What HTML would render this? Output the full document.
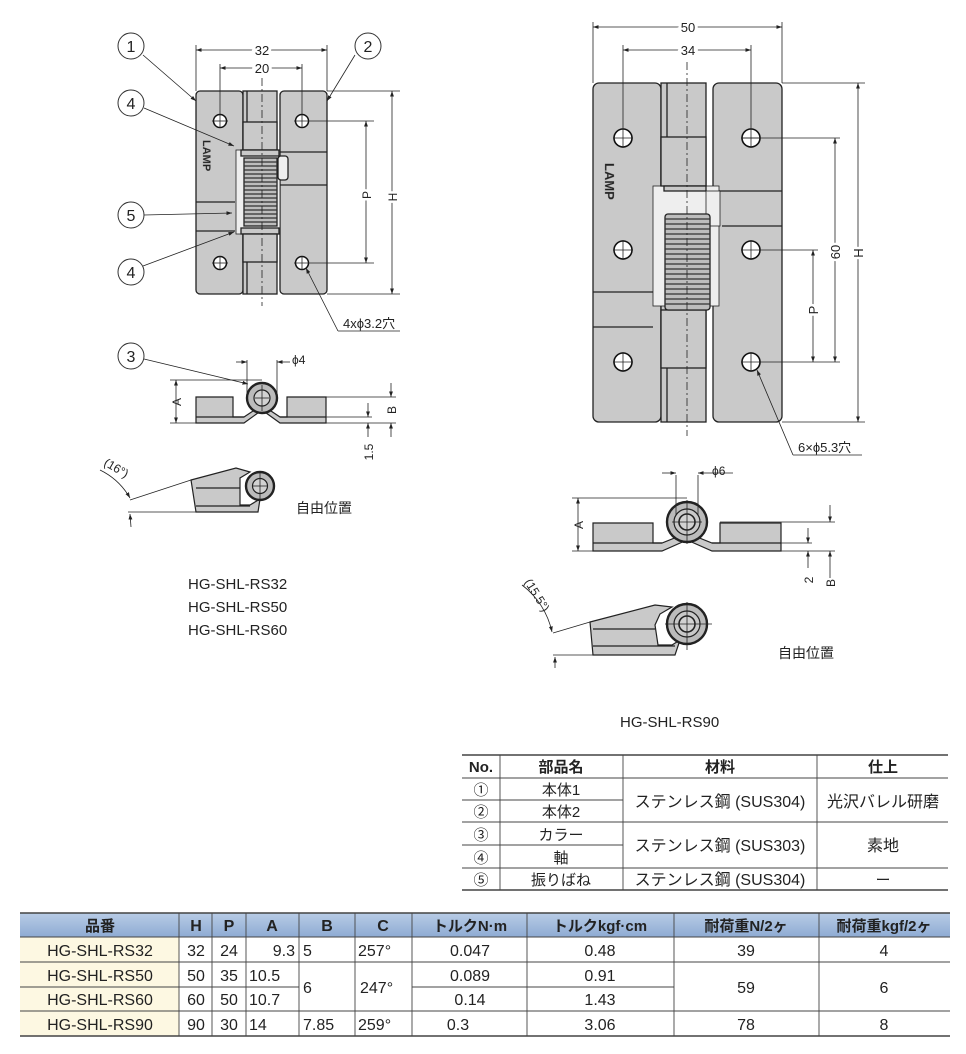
<!DOCTYPE html>
<html><head><meta charset="utf-8"><style>
html,body{margin:0;padding:0;background:#fff}
svg{display:block}
text{font-family:"Liberation Sans","Noto Sans CJK JP",sans-serif;fill:#222}
</style></head><body>
<svg width="966" height="1054" viewBox="0 0 966 1054" xmlns="http://www.w3.org/2000/svg">
<defs>
<marker id="ar" viewBox="0 0 10 10" refX="10" refY="5" markerWidth="7" markerHeight="7" orient="auto-start-reverse"><path d="M0,1.5 L10,5 L0,8.5 z" fill="#222"/></marker>
<linearGradient id="hd" x1="0" y1="0" x2="0" y2="1"><stop offset="0" stop-color="#b8cce6"/><stop offset="1" stop-color="#8eabd3"/></linearGradient>
</defs>
<g stroke="#222" stroke-width="1.3" fill="#c9c9c9">
<!-- LEFT HINGE FRONT -->
<rect x="196" y="91" width="47" height="203" rx="4"/>
<line x1="196" y1="202" x2="235" y2="202"/><line x1="196" y1="231" x2="235" y2="231"/>
<rect x="243" y="91" width="34" height="203"/>
<line x1="247" y1="91" x2="247" y2="294"/>
<rect x="280" y="91" width="47" height="203" rx="4"/>
<line x1="280" y1="152" x2="327" y2="152"/><line x1="280" y1="185" x2="327" y2="185"/>
<rect x="236" y="150" width="44" height="84" fill="#eee" stroke-width="0.8"/>
<rect x="243" y="122" width="34" height="28"/>
<rect x="241" y="150" width="38" height="6"/>
<rect x="241" y="228" width="38" height="6"/>
<rect x="243" y="234" width="34" height="28"/>
<rect x="278" y="156" width="10" height="24" rx="3" fill="#eee"/>
<rect x="244" y="158" width="33" height="68" fill="#bdbdbd"/>
</g>
<g stroke="#333" stroke-width="1.3">
<line x1="244" y1="162" x2="277" y2="162"/><line x1="244" y1="166" x2="277" y2="166"/><line x1="244" y1="170" x2="277" y2="170"/><line x1="244" y1="174" x2="277" y2="174"/><line x1="244" y1="178" x2="277" y2="178"/><line x1="244" y1="182" x2="277" y2="182"/><line x1="244" y1="186" x2="277" y2="186"/><line x1="244" y1="190" x2="277" y2="190"/><line x1="244" y1="194" x2="277" y2="194"/><line x1="244" y1="198" x2="277" y2="198"/><line x1="244" y1="202" x2="277" y2="202"/><line x1="244" y1="206" x2="277" y2="206"/><line x1="244" y1="210" x2="277" y2="210"/><line x1="244" y1="214" x2="277" y2="214"/><line x1="244" y1="218" x2="277" y2="218"/><line x1="244" y1="222" x2="277" y2="222"/>
</g>
<g fill="#fff" stroke="#111" stroke-width="1.5">
<circle cx="220" cy="121" r="6.5"/><circle cx="302" cy="121" r="6.5"/><circle cx="220" cy="263" r="6.5"/><circle cx="302" cy="263" r="6.5"/>
</g>
<text x="0" y="0" font-size="11" font-weight="bold" fill="#999" stroke="#777" stroke-width="0.3" transform="translate(203,140) rotate(90)">LAMP</text>
<g stroke="#222" stroke-width="0.8" fill="none">
<line x1="262" y1="62" x2="262" y2="306" stroke-dasharray="8,3,2,3"/>
<line x1="196" y1="45" x2="196" y2="91"/><line x1="327" y1="45" x2="327" y2="91"/>
<line x1="196" y1="50" x2="327" y2="50" marker-start="url(#ar)" marker-end="url(#ar)"/>
<line x1="220" y1="64" x2="220" y2="128"/><line x1="302" y1="64" x2="302" y2="128"/>
<line x1="220" y1="68" x2="302" y2="68" marker-start="url(#ar)" marker-end="url(#ar)"/>
<line x1="212" y1="121" x2="228" y2="121"/><line x1="212" y1="263" x2="228" y2="263"/><line x1="220" y1="256" x2="220" y2="270"/><line x1="302" y1="256" x2="302" y2="270"/>
<line x1="327" y1="91" x2="400" y2="91"/><line x1="327" y1="294" x2="400" y2="294"/>
<line x1="392" y1="91" x2="392" y2="294" marker-start="url(#ar)" marker-end="url(#ar)"/>
<line x1="294" y1="121" x2="374" y2="121"/><line x1="294" y1="263" x2="374" y2="263"/>
<line x1="366" y1="121" x2="366" y2="263" marker-start="url(#ar)" marker-end="url(#ar)"/>
<line x1="338" y1="331" x2="306" y2="268" marker-end="url(#ar)"/><line x1="338" y1="331" x2="400" y2="331"/>
<line x1="143" y1="55" x2="196" y2="101" marker-end="url(#ar)"/>
<line x1="355" y1="55" x2="327" y2="101" marker-end="url(#ar)"/>
<line x1="144" y1="108" x2="234" y2="146" marker-end="url(#ar)"/>
<line x1="144" y1="215" x2="232" y2="213" marker-end="url(#ar)"/>
<line x1="143" y1="266" x2="234" y2="232" marker-end="url(#ar)"/>
<line x1="144" y1="359" x2="248" y2="384" marker-end="url(#ar)"/>
</g>
<g font-size="13">
<text x="262" y="55" text-anchor="middle" style="paint-order:stroke" stroke="#fff" stroke-width="6">32</text>
<text x="262" y="73" text-anchor="middle" style="paint-order:stroke" stroke="#fff" stroke-width="6">20</text>
<text transform="translate(397,197) rotate(-90)" text-anchor="middle" font-size="12" style="paint-order:stroke" stroke="#fff" stroke-width="5">H</text>
<text transform="translate(371,195) rotate(-90)" text-anchor="middle" font-size="12" style="paint-order:stroke" stroke="#fff" stroke-width="5">P</text>
<text x="343" y="328">4xϕ3.2穴</text>
</g>
<g fill="#fff" stroke="#333" stroke-width="1">
<circle cx="131" cy="46" r="13"/><circle cx="368" cy="46" r="13"/><circle cx="131" cy="103" r="13"/><circle cx="131" cy="215" r="13"/><circle cx="131" cy="272" r="13"/><circle cx="131" cy="356" r="13"/>
</g>
<g font-size="16" text-anchor="middle">
<text x="131" y="52">1</text><text x="368" y="52">2</text><text x="131" y="109">4</text><text x="131" y="221">5</text><text x="131" y="278">4</text><text x="131" y="362">3</text>
</g>

<!-- LEFT SIDE VIEW -->
<g stroke="#222" stroke-width="1.2" fill="#c9c9c9">
<path d="M196,397 H233 V417 L244,417 L262,405 L280,417 L287,417 V397 H326 V423 H287 L280,423 L262,410 L244,423 H196 Z"/>
<line x1="196" y1="417" x2="244" y2="417"/><line x1="280" y1="417" x2="326" y2="417"/>
<circle cx="262" cy="398" r="15" fill="#bbb" stroke-width="2.4"/>
<circle cx="262" cy="398" r="8" fill="#d2d2d2"/>
</g>
<g stroke="#222" stroke-width="0.8" fill="none">
<line x1="262" y1="385" x2="262" y2="411"/><line x1="255" y1="398" x2="269" y2="398"/>
<line x1="247" y1="360" x2="247" y2="395"/><line x1="277" y1="360" x2="277" y2="395"/>
<line x1="236" y1="362" x2="247" y2="362" marker-end="url(#ar)"/><line x1="290" y1="362" x2="277" y2="362" marker-end="url(#ar)"/>
<line x1="170" y1="380" x2="262" y2="380"/><line x1="170" y1="423" x2="196" y2="423"/>
<line x1="176" y1="380" x2="176" y2="423" marker-start="url(#ar)" marker-end="url(#ar)"/>
<line x1="326" y1="397" x2="396" y2="397"/><line x1="326" y1="417" x2="372" y2="417"/><line x1="326" y1="423" x2="396" y2="423"/>
<line x1="391" y1="383" x2="391" y2="397" marker-end="url(#ar)"/><line x1="391" y1="437" x2="391" y2="423" marker-end="url(#ar)"/>
<line x1="368" y1="403" x2="368" y2="417" marker-end="url(#ar)"/><line x1="368" y1="437" x2="368" y2="423" marker-end="url(#ar)"/>
</g>
<g font-size="12">
<text x="292" y="364">ϕ4</text>
<text transform="translate(181,402) rotate(-90)" text-anchor="middle">A</text>
<text transform="translate(396,410) rotate(-90)" text-anchor="middle">B</text>
<text transform="translate(373,452) rotate(-90)" text-anchor="middle">1.5</text>
</g>
<!-- left tilted -->
<g stroke="#222" stroke-width="1.2" fill="#c9c9c9">
<path d="M191,480 L236,468 L250,472 L240,478 L240,505 L250,505 L260,499 L258,512 H196 Z"/>
<line x1="196" y1="488" x2="240" y2="488"/><line x1="196" y1="506" x2="250" y2="506"/>
<circle cx="260" cy="486" r="14" fill="#bbb" stroke-width="2.4"/><circle cx="260" cy="486" r="7.5" fill="#d2d2d2"/>
</g>
<g stroke="#222" stroke-width="0.8" fill="none">
<line x1="253" y1="486" x2="267" y2="486"/><line x1="260" y1="473" x2="260" y2="499"/>
<line x1="130" y1="500" x2="191" y2="480"/><line x1="128" y1="512" x2="196" y2="512"/>
<path d="M100,470 A70,70 0 0 1 130,498" marker-end="url(#ar)"/><path d="M131,527 L130,514" marker-end="url(#ar)"/>
</g>
<text transform="translate(103,465) rotate(30)" font-size="12">(16°)</text>
<text x="296" y="513" font-size="14">自由位置</text>
<g font-size="15"><text x="188" y="589">HG-SHL-RS32</text><text x="188" y="612">HG-SHL-RS50</text><text x="188" y="635">HG-SHL-RS60</text></g>

<!-- RIGHT HINGE FRONT -->
<g stroke="#222" stroke-width="1.3" fill="#c9c9c9">
<rect x="593" y="83" width="68" height="339" rx="6"/>
<line x1="593" y1="292" x2="653" y2="292"/><line x1="593" y1="327" x2="653" y2="327"/>
<rect x="661" y="83" width="45" height="339"/>
<line x1="667" y1="83" x2="667" y2="422"/>
<rect x="713" y="83" width="69" height="339" rx="6"/>
<line x1="713" y1="191" x2="782" y2="191"/><line x1="722" y1="226" x2="782" y2="226"/>
<rect x="653" y="186" width="66" height="120" fill="#eee" stroke-width="0.8"/>
<rect x="661" y="137" width="45" height="49"/>
<rect x="664" y="186" width="42" height="5"/>
<rect x="661" y="310" width="45" height="58"/>
<rect x="706" y="191" width="14" height="35" stroke-width="0.8" fill="#eee"/>
<rect x="665" y="214" width="45" height="96" fill="#bdbdbd" stroke-width="1.3" rx="3"/>
</g>
<g stroke="#333" stroke-width="1.3">
<line x1="665" y1="219" x2="710" y2="219"/><line x1="665" y1="224" x2="710" y2="224"/><line x1="665" y1="229" x2="710" y2="229"/><line x1="665" y1="234" x2="710" y2="234"/><line x1="665" y1="239" x2="710" y2="239"/><line x1="665" y1="244" x2="710" y2="244"/><line x1="665" y1="249" x2="710" y2="249"/><line x1="665" y1="254" x2="710" y2="254"/><line x1="665" y1="259" x2="710" y2="259"/><line x1="665" y1="264" x2="710" y2="264"/><line x1="665" y1="269" x2="710" y2="269"/><line x1="665" y1="274" x2="710" y2="274"/><line x1="665" y1="279" x2="710" y2="279"/><line x1="665" y1="284" x2="710" y2="284"/><line x1="665" y1="289" x2="710" y2="289"/><line x1="665" y1="294" x2="710" y2="294"/><line x1="665" y1="299" x2="710" y2="299"/><line x1="665" y1="304" x2="710" y2="304"/>
</g>
<g fill="#fff" stroke="#111" stroke-width="1.6">
<circle cx="623" cy="138" r="9"/><circle cx="623" cy="250" r="9"/><circle cx="623" cy="362" r="9"/>
<circle cx="751" cy="138" r="9"/><circle cx="751" cy="250" r="9"/><circle cx="751" cy="362" r="9"/>
</g>
<text transform="translate(605,163) rotate(90)" font-size="13" font-weight="bold" fill="#999" stroke="#777" stroke-width="0.3">LAMP</text>
<g stroke="#222" stroke-width="0.8" fill="none">
<line x1="613" y1="250" x2="633" y2="250"/><line x1="623" y1="240" x2="623" y2="260"/>
<line x1="613" y1="362" x2="633" y2="362"/><line x1="623" y1="352" x2="623" y2="372"/>
<line x1="613" y1="138" x2="633" y2="138"/><line x1="741" y1="138" x2="761" y2="138"/>
<line x1="751" y1="240" x2="751" y2="260"/><line x1="751" y1="352" x2="751" y2="372"/>
<line x1="687" y1="62" x2="687" y2="436" stroke-dasharray="8,3,2,3"/>
<line x1="593" y1="22" x2="593" y2="83"/><line x1="782" y1="22" x2="782" y2="83"/>
<line x1="593" y1="27" x2="782" y2="27" marker-start="url(#ar)" marker-end="url(#ar)"/>
<line x1="623" y1="45" x2="623" y2="148"/><line x1="751" y1="45" x2="751" y2="148"/>
<line x1="623" y1="50" x2="751" y2="50" marker-start="url(#ar)" marker-end="url(#ar)"/>
<line x1="782" y1="83" x2="865" y2="83"/><line x1="782" y1="422" x2="865" y2="422"/>
<line x1="858" y1="83" x2="858" y2="422" marker-start="url(#ar)" marker-end="url(#ar)"/>
<line x1="741" y1="138" x2="840" y2="138"/><line x1="741" y1="362" x2="840" y2="362"/>
<line x1="835" y1="138" x2="835" y2="362" marker-start="url(#ar)" marker-end="url(#ar)"/>
<line x1="741" y1="250" x2="818" y2="250"/>
<line x1="813" y1="250" x2="813" y2="362" marker-start="url(#ar)" marker-end="url(#ar)"/>
<line x1="793" y1="455" x2="757" y2="370" marker-end="url(#ar)"/><line x1="793" y1="455" x2="862" y2="455"/>
</g>
<g font-size="13">
<text x="688" y="32" text-anchor="middle" style="paint-order:stroke" stroke="#fff" stroke-width="6">50</text>
<text x="688" y="55" text-anchor="middle" style="paint-order:stroke" stroke="#fff" stroke-width="6">34</text>
<text transform="translate(863,253) rotate(-90)" text-anchor="middle" style="paint-order:stroke" stroke="#fff" stroke-width="5">H</text>
<text transform="translate(840,252) rotate(-90)" text-anchor="middle" style="paint-order:stroke" stroke="#fff" stroke-width="5">60</text>
<text transform="translate(818,310) rotate(-90)" text-anchor="middle" style="paint-order:stroke" stroke="#fff" stroke-width="5">P</text>
<text x="798" y="452">6×ϕ5.3穴</text>
</g>
<!-- RIGHT SIDE VIEW -->
<g stroke="#222" stroke-width="1.2" fill="#c9c9c9">
<path d="M593,523 H653 V543 L662,543 L687,533 L712,543 L720,543 V523 H781 V551 H720 L712,551 L687,540 L662,551 H593 Z"/>
<line x1="593" y1="543" x2="662" y2="543"/><line x1="712" y1="543" x2="781" y2="543"/>
<circle cx="687" cy="522" r="20" fill="#bbb" stroke-width="2.4"/>
<circle cx="687" cy="522" r="13" fill="#c9c9c9"/>
<circle cx="687" cy="522" r="8" fill="#d2d2d2" stroke-width="1.6"/>
</g>
<g stroke="#222" stroke-width="0.8" fill="none">
<line x1="687" y1="500" x2="687" y2="544"/><line x1="672" y1="522" x2="702" y2="522"/>
<line x1="676" y1="475" x2="676" y2="515"/><line x1="698" y1="475" x2="698" y2="515"/>
<line x1="662" y1="473" x2="676" y2="473" marker-end="url(#ar)"/><line x1="712" y1="473" x2="698" y2="473" marker-end="url(#ar)"/><line x1="712" y1="473" x2="733" y2="473"/>
<line x1="572" y1="498" x2="687" y2="498"/><line x1="572" y1="551" x2="593" y2="551"/>
<line x1="578" y1="498" x2="578" y2="551" marker-start="url(#ar)" marker-end="url(#ar)"/>
<line x1="720" y1="522" x2="835" y2="522"/><line x1="781" y1="543" x2="812" y2="543"/><line x1="781" y1="551" x2="835" y2="551"/>
<line x1="830" y1="505" x2="830" y2="522" marker-end="url(#ar)"/><line x1="830" y1="578" x2="830" y2="551" marker-end="url(#ar)"/>
<line x1="808" y1="528" x2="808" y2="543" marker-end="url(#ar)"/><line x1="808" y1="568" x2="808" y2="551" marker-end="url(#ar)"/>
</g>
<g font-size="12">
<text x="712" y="475">ϕ6</text>
<text transform="translate(583,525) rotate(-90)" text-anchor="middle">A</text>
<text transform="translate(835,583) rotate(-90)" text-anchor="middle">B</text>
<text transform="translate(813,580) rotate(-90)" text-anchor="middle">2</text>
</g>
<g stroke="#222" stroke-width="1.2" fill="#c9c9c9">
<path d="M590,622 L655,605 L672,607 L660,614 L655,625 L658,645 L672,645 L680,640 L675,655 H593 Z"/>
<line x1="593" y1="629" x2="655" y2="629"/><line x1="593" y1="646" x2="675" y2="646"/>
<circle cx="687" cy="624" r="20" fill="#bbb" stroke-width="2.4"/>
<circle cx="687" cy="624" r="13" fill="#c9c9c9"/>
<circle cx="687" cy="624" r="8" fill="#d2d2d2" stroke-width="1.6"/>
</g>
<g stroke="#222" stroke-width="0.8" fill="none">
<line x1="687" y1="602" x2="687" y2="650"/><line x1="665" y1="624" x2="712" y2="624"/>
<line x1="553" y1="633" x2="590" y2="622"/><line x1="553" y1="655" x2="593" y2="655"/>
<path d="M522,585 A80,80 0 0 1 552,632" marker-end="url(#ar)"/><path d="M555,668 L555,657" marker-end="url(#ar)"/>
</g>
<text transform="translate(524,582) rotate(58)" font-size="12">(15.5°)</text>
<text x="778" y="658" font-size="14">自由位置</text>
<text x="620" y="727" font-size="15">HG-SHL-RS90</text>

<!-- PARTS TABLE -->
<g stroke="#444" stroke-width="0.9" fill="none">
<line x1="462" y1="755" x2="948" y2="755" stroke-width="1.6"/>
<line x1="462" y1="778" x2="948" y2="778"/>
<line x1="462" y1="800" x2="623" y2="800"/>
<line x1="462" y1="822" x2="948" y2="822"/>
<line x1="462" y1="845" x2="623" y2="845"/>
<line x1="462" y1="868" x2="948" y2="868"/>
<line x1="462" y1="890" x2="948" y2="890" stroke-width="1.4"/>
<line x1="500" y1="755" x2="500" y2="890"/><line x1="623" y1="755" x2="623" y2="890"/><line x1="817" y1="755" x2="817" y2="890"/>
</g>
<g font-size="15" text-anchor="middle">
<text x="481" y="772" font-weight="bold">No.</text><text x="561" y="772" font-weight="bold">部品名</text><text x="720" y="772" font-weight="bold">材料</text><text x="883" y="772" font-weight="bold">仕上</text>
<text x="481" y="795">①</text><text x="481" y="817">②</text><text x="481" y="840">③</text><text x="481" y="863">④</text><text x="481" y="885">⑤</text>
<text x="561" y="795">本体1</text><text x="561" y="817">本体2</text><text x="561" y="840">カラー</text><text x="561" y="863">軸</text><text x="561" y="885">振りばね</text>
<text x="720" y="807" font-size="16">ステンレス鋼 (SUS304)</text><text x="720" y="851" font-size="16">ステンレス鋼 (SUS303)</text><text x="720" y="885" font-size="16">ステンレス鋼 (SUS304)</text>
<text x="883" y="807" font-size="16">光沢バレル研磨</text><text x="883" y="851" font-size="16">素地</text><text x="883" y="885">ー</text>
</g>

<!-- SPEC TABLE -->
<rect x="20" y="913" width="930" height="24" fill="url(#hd)"/>
<rect x="20" y="937" width="159" height="99" fill="#fdf8e2"/>
<g stroke="#444" stroke-width="0.9" fill="none">
<line x1="20" y1="913" x2="950" y2="913" stroke-width="1.6"/>
<line x1="20" y1="937" x2="950" y2="937"/>
<line x1="20" y1="962" x2="950" y2="962"/>
<line x1="20" y1="987" x2="299" y2="987"/><line x1="412" y1="987" x2="674" y2="987"/>
<line x1="20" y1="1011" x2="950" y2="1011"/>
<line x1="20" y1="1036" x2="950" y2="1036" stroke-width="1.4"/>
<line x1="179" y1="913" x2="179" y2="1036"/><line x1="212" y1="913" x2="212" y2="1036"/><line x1="246" y1="913" x2="246" y2="1036"/><line x1="299" y1="913" x2="299" y2="1036"/><line x1="355" y1="913" x2="355" y2="1036"/><line x1="412" y1="913" x2="412" y2="1036"/><line x1="527" y1="913" x2="527" y2="1036"/><line x1="674" y1="913" x2="674" y2="1036"/><line x1="819" y1="913" x2="819" y2="1036"/>
</g>
<g font-size="16" text-anchor="middle">
<text x="100" y="931" fill="#fff" font-weight="bold" font-size="15">品番</text>
<text x="196" y="931" font-weight="bold">H</text><text x="229" y="931" font-weight="bold">P</text><text x="272" y="931" font-weight="bold">A</text><text x="327" y="931" font-weight="bold">B</text><text x="383" y="931" font-weight="bold">C</text>
<text x="470" y="931" font-weight="bold" font-size="15">トルクN·m</text><text x="600" y="931" font-weight="bold" font-size="15">トルクkgf·cm</text><text x="746" y="931" font-weight="bold" font-size="15">耐荷重N/2ヶ</text><text x="884" y="931" font-weight="bold" font-size="15">耐荷重kgf/2ヶ</text>
<text x="100" y="956">HG-SHL-RS32</text><text x="100" y="981">HG-SHL-RS50</text><text x="100" y="1005">HG-SHL-RS60</text><text x="100" y="1030">HG-SHL-RS90</text>
<text x="196" y="956">32</text><text x="196" y="981">50</text><text x="196" y="1005">60</text><text x="196" y="1030">90</text>
<text x="229" y="956">24</text><text x="229" y="981">35</text><text x="229" y="1005">50</text><text x="229" y="1030">30</text>
<text x="470" y="956">0.047</text><text x="470" y="981">0.089</text><text x="470" y="1005">0.14</text><text x="458" y="1030">0.3</text>
<text x="600" y="956">0.48</text><text x="600" y="981">0.91</text><text x="600" y="1005">1.43</text><text x="600" y="1030">3.06</text>
<text x="746" y="956">39</text><text x="746" y="993">59</text><text x="746" y="1030">78</text>
<text x="884" y="956">4</text><text x="884" y="993">6</text><text x="884" y="1030">8</text>
</g>
<g font-size="16">
<text x="295" y="956" text-anchor="end">9.3</text><text x="249" y="981">10.5</text><text x="249" y="1005">10.7</text><text x="249" y="1030">14</text>
<text x="303" y="956">5</text><text x="303" y="993">6</text><text x="303" y="1030">7.85</text>
<text x="358" y="956">257°</text><text x="360" y="993">247°</text><text x="358" y="1030">259°</text>
</g>
</svg>
</body></html>
